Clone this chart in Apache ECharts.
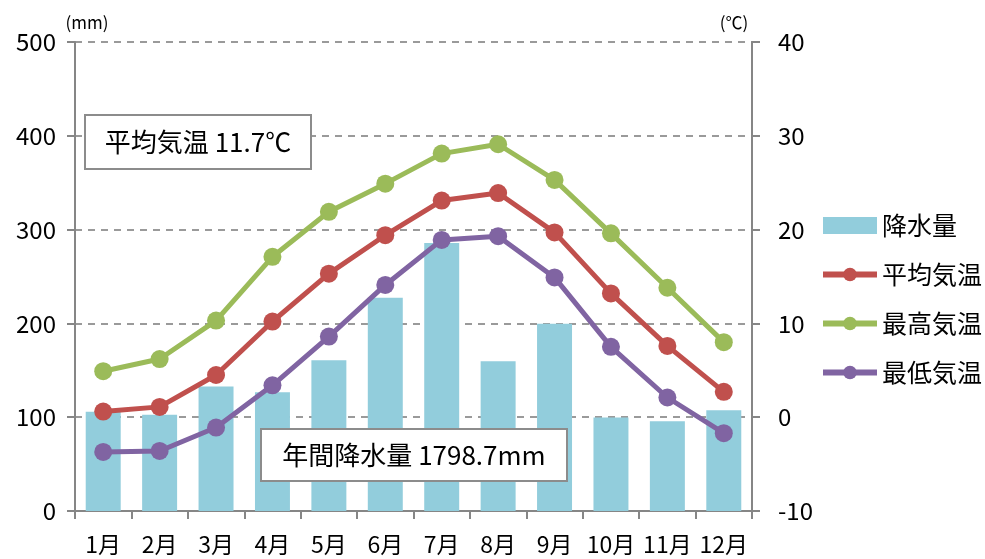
<!DOCTYPE html>
<html>
<head>
<meta charset="utf-8">
<script src="https://cdn.jsdelivr.net/npm/echarts@6/dist/echarts.min.js"></script>
<style>
  html, body { margin: 0; padding: 0; background: #fff; }
  #chart { width: 985px; height: 559px; }
</style>
</head>
<body>
<div id="chart"></div>
<script>
// 月別データ
const months = ["1月", "2月", "3月", "4月", "5月", "6月", "7月", "8月", "9月", "10月", "11月", "12月"];
const rain = [105.8, 102.6, 132.8, 126.6, 160.6, 227.3, 285.6, 159.6, 199.5, 99.8, 95.6, 107.5];
const avgTemp = [0.6, 1.1, 4.5, 10.2, 15.3, 19.4, 23.1, 23.9, 19.7, 13.2, 7.6, 2.7];
const maxTemp = [4.9, 6.2, 10.3, 17.1, 21.9, 24.9, 28.1, 29.1, 25.3, 19.6, 13.8, 8.0];
const minTemp = [-3.7, -3.6, -1.1, 3.4, 8.6, 14.1, 18.9, 19.3, 14.9, 7.5, 2.1, -1.7];

const FONT = '"Noto Sans CJK JP", "Noto Sans", sans-serif';
const axisGray = "#868686";

const chart = echarts.init(document.getElementById("chart"));

const lineSeries = (name, data, color) => ({
  name: name,
  type: "line",
  yAxisIndex: 1,
  data: data,
  symbol: "circle",
  symbolSize: 18,
  lineStyle: { width: 5, color: color },
  itemStyle: { color: color },
  z: 3,
});

const box = (left, top, w, h, text) => ({
  type: "group",
  left: left,
  top: top,
  children: [
    { type: "rect", z: 100, shape: { x: 0, y: 0, width: w, height: h },
      style: { fill: "#fff", stroke: "#8c8c8c", lineWidth: 2 } },
    { type: "text", z: 101, x: w / 2, y: h / 2,
      style: { text: text, fill: "#000", font: "26px " + FONT,
               textAlign: "center", textVerticalAlign: "middle" } },
  ],
});

chart.setOption({
  animation: false,
  textStyle: { fontFamily: FONT },
  grid: { left: 75, right: 233, top: 42, bottom: 48 },
  legend: {
    orient: "vertical",
    left: 820,
    top: 213,
    padding: 0,
    itemGap: 24,
    itemWidth: 54,
    itemHeight: 17,
    lineStyle: { width: 6 },
    textStyle: { fontSize: 25, color: "#000", fontFamily: FONT },
    data: [
      { name: "降水量", icon: "rect", itemStyle: { color: "#92CDDC" } },
      { name: "平均気温" },
      { name: "最高気温" },
      { name: "最低気温" },
    ],
  },
  xAxis: {
    type: "category",
    data: months,
    axisLine: { lineStyle: { color: axisGray, width: 2 } },
    axisTick: { show: true, length: 8, lineStyle: { color: axisGray, width: 2 } },
    axisLabel: { color: "#000", fontSize: 23, margin: 22, interval: 0, fontFamily: FONT },
  },
  yAxis: [
    {
      type: "value",
      min: 0,
      max: 500,
      interval: 100,
      name: "(mm)",
      nameLocation: "end",
      nameGap: 11,
      nameTextStyle: { color: "#000", fontSize: 17, padding: [0, 0, 0, 24], fontFamily: FONT },
      axisLine: { show: true, lineStyle: { color: axisGray, width: 2 } },
      axisTick: { show: true, length: 8, lineStyle: { color: axisGray, width: 2 } },
      axisLabel: { color: "#000", fontSize: 24, margin: 19, fontFamily: FONT },
      splitLine: { lineStyle: { color: "#9a9a9a", type: [7, 6], width: 2 } },
    },
    {
      type: "value",
      min: -10,
      max: 40,
      interval: 10,
      name: "(℃)",
      nameLocation: "end",
      nameGap: 11,
      nameTextStyle: { color: "#000", fontSize: 17, padding: [0, 36, 0, 0], fontFamily: FONT },
      axisLine: { show: true, lineStyle: { color: axisGray, width: 2 } },
      axisTick: { show: true, length: 8, lineStyle: { color: axisGray, width: 2 } },
      axisLabel: { color: "#000", fontSize: 24, margin: 26, fontFamily: FONT },
      splitLine: { show: false },
    },
  ],
  series: [
    {
      name: "降水量",
      type: "bar",
      yAxisIndex: 0,
      data: rain,
      barWidth: "62%",
      itemStyle: { color: "#92CDDC" },
      z: 2,
    },
    lineSeries("平均気温", avgTemp, "#C0504D"),
    lineSeries("最高気温", maxTemp, "#9BBB59"),
    lineSeries("最低気温", minTemp, "#8064A2"),
  ],
  graphic: [
    box(84, 114, 226, 54, "平均気温 11.7℃"),
    box(260, 428, 306, 52, "年間降水量 1798.7mm"),
  ],
});
</script>
</body>
</html>
